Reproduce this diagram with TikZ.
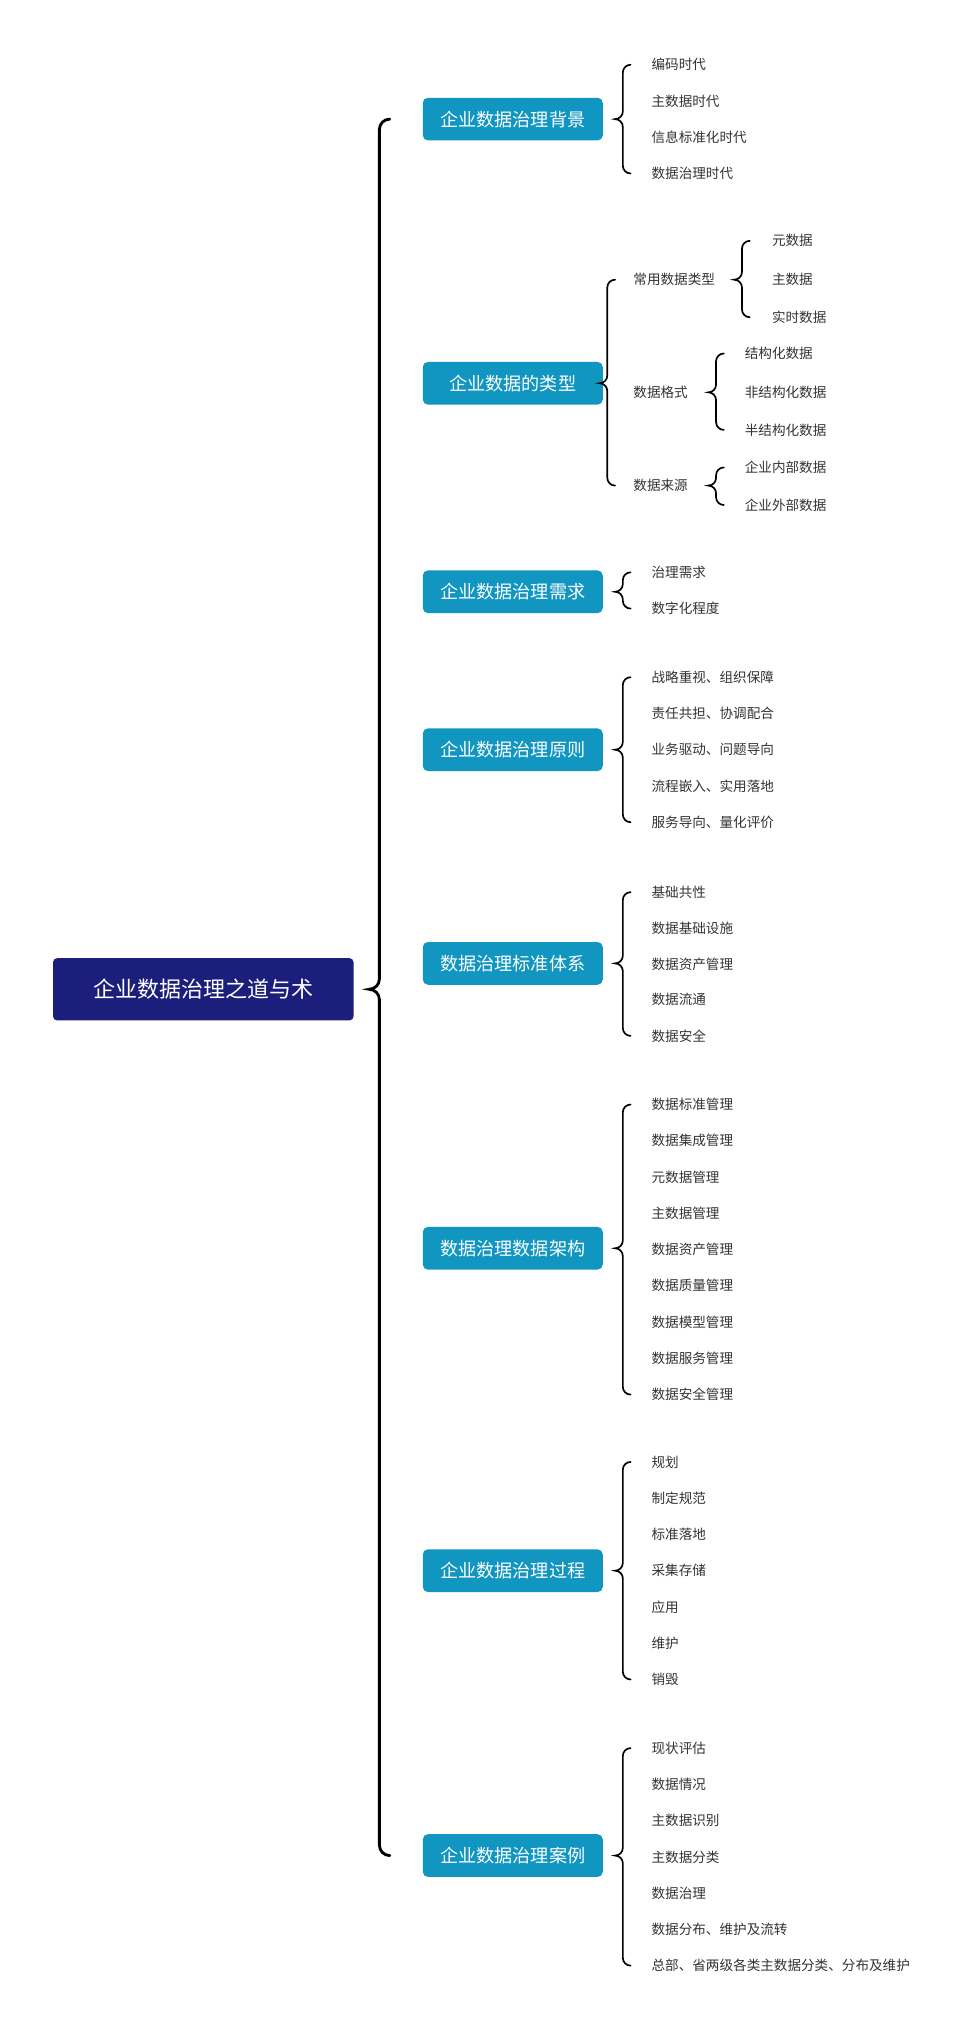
\documentclass[tikz,border=0pt]{standalone}
\usepackage{fontspec}
\setmainfont{Noto Sans CJK SC}
\definecolor{RootBlue}{HTML}{1C1E7C}
\definecolor{TopicBlue}{HTML}{1096C0}
\tikzset{
    root/.style={fill=RootBlue, text=white, rounded corners=3pt, minimum width=232pt, minimum height=48pt, font=\fontsize{17}{20}\selectfont},
    topic/.style={fill=TopicBlue, text=white, rounded corners=4pt, minimum width=139pt, minimum height=33pt, font=\fontsize{14}{17}\selectfont},
    leaf/.style={anchor=west, inner sep=0pt, font=\fontsize{10.5}{12}\selectfont, text=black!80},
    brace/.style={draw=black, line width=1.3pt, line cap=round}
}
% curly brace: x of tip, top, bottom, tip height, width
\newcommand\mmbrace[6][1.3pt]{%
    \pgfmathsetmacro\bw{#6}\pgfmathsetmacro\bh{#6/2}%
    \draw[brace, line width=#1] (#2+\bw,#3) to[out=180,in=90] (#2+\bh,#3+\bh)
        -- (#2+\bh,#5-\bh) to[out=-90,in=0] (#2,#5)
        to[out=0,in=90] (#2+\bh,#5+\bh) -- (#2+\bh,#4-\bh) to[out=-90,in=180] (#2+\bw,#4);}
\begin{document}
\begin{tikzpicture}[x=1pt, y=-1pt]
    \useasboundingbox (0,0) rectangle (750,1560);

    \node[root] (root) at (157,764) {企业数据治理之道与术};
    \mmbrace[2.2pt]{285}{92}{1433}{764}{16}

    % topics
    \foreach \name/\y/\txt in {t1/92/企业数据治理背景, t2/296/企业数据的类型, t3/457/企业数据治理需求,
        t4/579/企业数据治理原则, t5/744/数据治理标准体系, t6/964/数据治理数据架构,
        t7/1213/企业数据治理过程, t8/1433/企业数据治理案例}
        \node[topic] (\name) at (396,\y) {\txt};

    % leaves
    \foreach \y/\txt in {50/编码时代, 78/主数据时代, 106/信息标准化时代, 134/数据治理时代}
        \node[leaf] at (503,\y) {\txt};
    \mmbrace{475}{50}{134}{92}{12}

    \foreach \name/\y/\txt in {s1/216/常用数据类型, s2/303/数据格式, s3/375/数据来源}
        \node[leaf] (\name) at (489,\y) {\txt};
    \mmbrace{463}{216}{375}{296}{12}
    \foreach \y/\txt in {186/元数据, 216/主数据, 245/实时数据}
        \node[leaf] at (596,\y) {\txt};
    \mmbrace{567}{186}{245}{216}{12}
    \foreach \y/\txt in {273/结构化数据, 303/非结构化数据, 332/半结构化数据}
        \node[leaf] at (575,\y) {\txt};
    \mmbrace{547}{273}{332}{303}{12}
    \foreach \y/\txt in {361/企业内部数据, 390/企业外部数据}
        \node[leaf] at (575,\y) {\txt};
    \mmbrace{547}{361}{390}{375}{12}

    \foreach \y/\txt in {442/治理需求, 470/数字化程度}
        \node[leaf] at (503,\y) {\txt};
    \mmbrace{475}{442}{470}{457}{12}

    \foreach \y/\txt in {523/战略重视、组织保障, 551/责任共担、协调配合, 579/业务驱动、问题导向,
        607/流程嵌入、实用落地, 635/服务导向、量化评价}
        \node[leaf] at (503,\y) {\txt};
    \mmbrace{475}{523}{635}{579}{12}

    \foreach \y/\txt in {689/基础共性, 717/数据基础设施, 745/数据资产管理, 772/数据流通, 800/数据安全}
        \node[leaf] at (503,\y) {\txt};
    \mmbrace{475}{689}{800}{744}{12}

    \foreach \y/\txt in {853/数据标准管理, 881/数据集成管理, 909/元数据管理, 937/主数据管理,
        965/数据资产管理, 993/数据质量管理, 1021/数据模型管理, 1049/数据服务管理, 1077/数据安全管理}
        \node[leaf] at (503,\y) {\txt};
    \mmbrace{475}{853}{1077}{964}{12}

    \foreach \y/\txt in {1129/规划, 1157/制定规范, 1185/标准落地, 1213/采集存储, 1241/应用, 1269/维护, 1297/销毁}
        \node[leaf] at (503,\y) {\txt};
    \mmbrace{475}{1129}{1297}{1213}{12}

    \foreach \y/\txt in {1350/现状评估, 1378/数据情况, 1406/主数据识别, 1434/主数据分类,
        1462/数据治理, 1490/数据分布、维护及流转, 1518/总部、省两级各类主数据分类、分布及维护}
        \node[leaf] at (503,\y) {\txt};
    \mmbrace{475}{1350}{1518}{1433}{12}

\end{tikzpicture}
\end{document}
